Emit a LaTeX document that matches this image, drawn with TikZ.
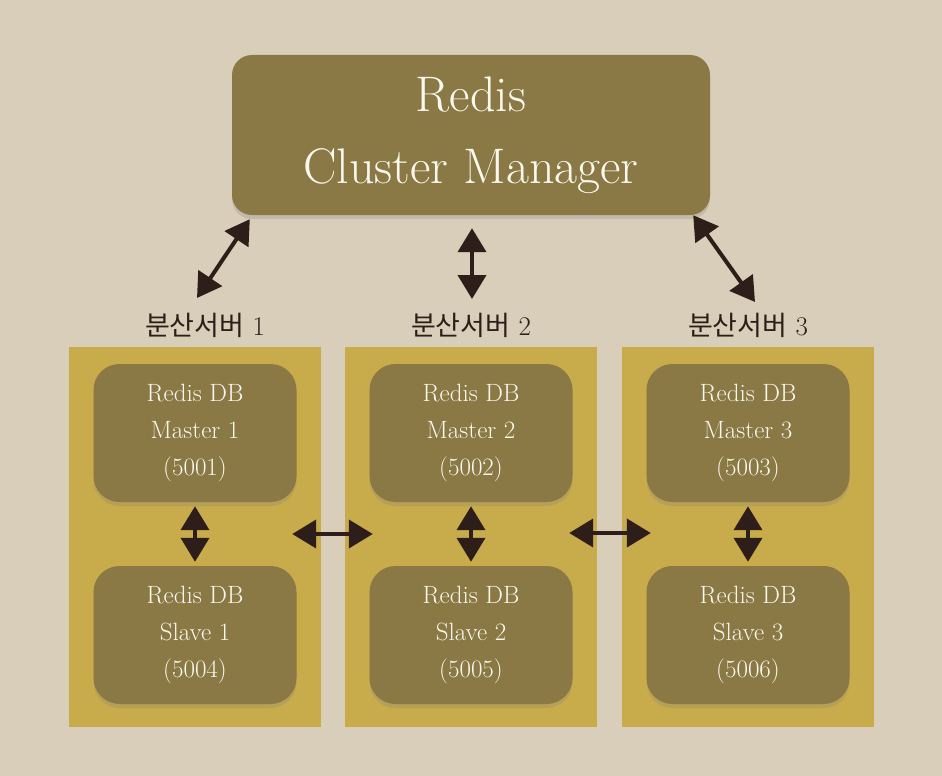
\documentclass[tikz,border=0pt]{standalone}
\usepackage{fontspec}
\newfontfamily\kr{Noto Sans CJK KR}
\usetikzlibrary{arrows.meta,shadows,calc}
\definecolor{paper}{HTML}{D8CEBA}
\definecolor{olive}{HTML}{8A7845}
\definecolor{gold}{HTML}{C8AB4B}
\definecolor{ink}{HTML}{2E1E19}
\definecolor{cream}{HTML}{FBF8EE}
\tikzset{
  box/.style={fill=olive, text=cream, align=center, inner sep=0pt,
    drop shadow={shadow xshift=0pt, shadow yshift=-4pt, opacity=0.25}},
  manager/.style={box, rounded corners=20pt, minimum width=478pt, minimum height=160pt,
    font=\fontsize{50}{72}\selectfont},
  db/.style={box, rounded corners=26pt, minimum width=203pt, minimum height=138pt,
    font=\fontsize{25}{37}\selectfont},
  panel/.style={fill=gold, minimum width=252pt, minimum height=380pt, inner sep=0pt},
  server/.style={text=ink, font=\fontsize{27}{30}\selectfont},
  link/.style={line width=4pt, draw=ink,
    {Triangle[width=28pt,length=24pt]}-{Triangle[width=28pt,length=24pt]}}
}
\begin{document}
\begin{tikzpicture}[x=1pt,y=-1pt]
  \fill[paper] (0,0) rectangle (942,776);
  \node[manager] (cm) at (471,135) {Redis\\Cluster Manager};
  \node[server] (l1) at (205,325) {{\kr 분산서버} 1};
  \node[server] (l2) at (471,325) {{\kr 분산서버} 2};
  \node[server] (l3) at (748,325) {{\kr 분산서버} 3};
  \node[panel] (p1) at (195,537) {};
  \node[panel] (p2) at (471,537) {};
  \node[panel] (p3) at (748,537) {};
  \node[db] (m1) at (195,433) {Redis DB\\Master 1\\(5001)};
  \node[db] (m2) at (471,433) {Redis DB\\Master 2\\(5002)};
  \node[db] (m3) at (748,433) {Redis DB\\Master 3\\(5003)};
  \node[db] (s1) at (195,635) {Redis DB\\Slave 1\\(5004)};
  \node[db] (s2) at (471,635) {Redis DB\\Slave 2\\(5005)};
  \node[db] (s3) at (748,635) {Redis DB\\Slave 3\\(5006)};
  \begin{scope}[link]
    \draw ($(cm.south west)+(18,4)$) to ($(l1)+(-8,-27)$);
    \draw ($(cm.south)+(1,13)$) to ($(l2)+(1,-26)$);
    \draw ($(cm.south east)+(-17,0)$) to ($(l3)+(7,-23)$);
    \draw[shorten <=4pt, shorten >=4pt] (m1) to (s1);
    \draw[shorten <=4pt, shorten >=4pt] (m2) to (s2);
    \draw[shorten <=4pt, shorten >=4pt] (m3) to (s3);
    \draw ($(p1.east)+(-29,-3)$) to ($(p2.west)+(28,-3)$);
    \draw ($(p2.east)+(-28,-4)$) to ($(p3.west)+(29,-4)$);
  \end{scope}
\end{tikzpicture}
\end{document}
